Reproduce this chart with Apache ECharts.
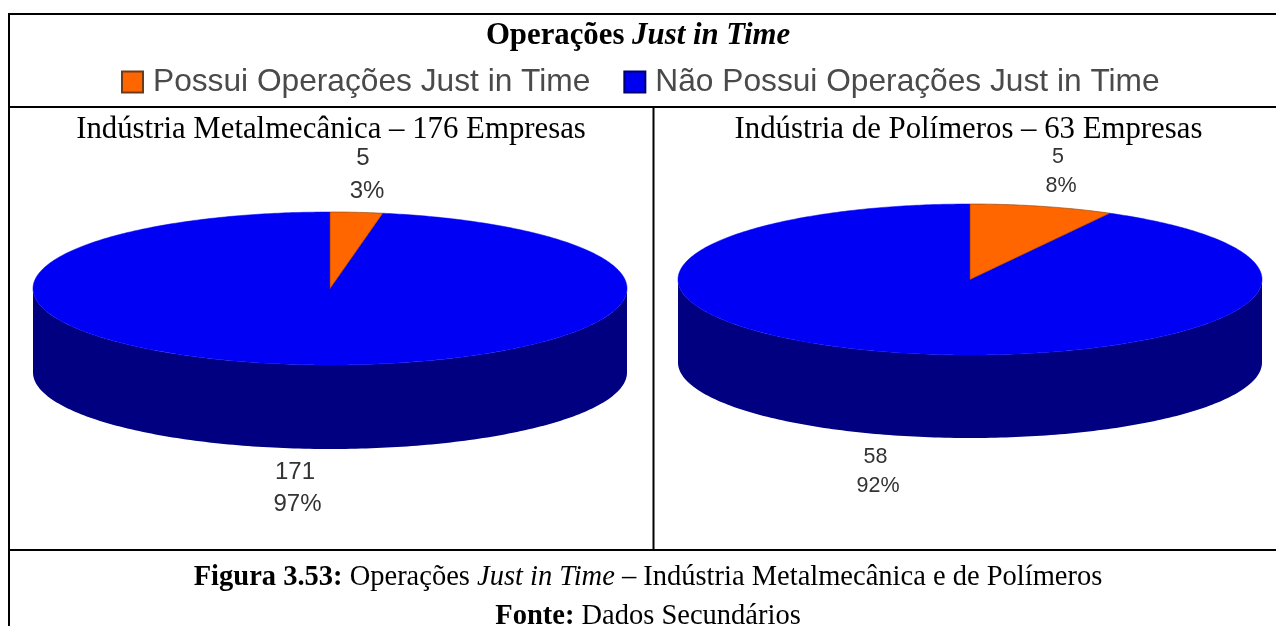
<!DOCTYPE html>
<html><head><meta charset="utf-8">
<style>html,body{margin:0;padding:0;background:#fff}#c{width:1276px;height:626px}</style>
<script src="https://cdn.jsdelivr.net/npm/echarts@6/dist/echarts.min.js"></script>
</head><body><div id="c"></div>
<script>
var legendNames = ['Possui Operações Just in Time', 'Não Possui Operações Just in Time'];
var panelTitles = ['Indústria Metalmecânica – 176 Empresas', 'Indústria de Polímeros – 63 Empresas'];
var possuiValues = [5, 5];
var naoPossuiValues = [171, 58];

var pieLayouts = [
  {cx: 330, cy: 288.5, rx: 297, ry: 76.5, depth: 84, font: 24,
   labelA: [[363, 158], [367, 191]], labelB: [[295, 472], [297.5, 504]]},
  {cx: 970, cy: 279.5, rx: 292, ry: 75.5, depth: 83, font: 21.5,
   labelA: [[1058, 157], [1061, 186]], labelB: [[875.5, 457], [878, 486]]}
];
var TOP_ORANGE = '#ff6600', TOP_BLUE = '#0000f5', SIDE_BLUE = '#000080';
var SERIF = '"Liberation Serif","Times New Roman",serif';
var SANS = '"Liberation Sans",Arial,sans-serif';

function ellipsePt(p, deg, dy) {
  var a = deg * Math.PI / 180;
  return [p.cx + p.rx * Math.sin(a), p.cy - p.ry * Math.cos(a) + (dy || 0)];
}
function slicePoints(p, from, to) {
  var pts = [[p.cx, p.cy]], n = Math.max(2, Math.ceil((to - from) * 1.5));
  for (var i = 0; i <= n; i++) pts.push(ellipsePt(p, from + (to - from) * i / n));
  return pts;
}
function wallPoints(p) {
  var pts = [], i;
  for (i = 0; i <= 180; i++) pts.push(ellipsePt(p, 90 + i));
  for (i = 180; i >= 0; i--) pts.push(ellipsePt(p, 90 + i, p.depth));
  return pts;
}
function textEl(pos, text, font) {
  return {
    type: 'text', z2: 10,
    style: {x: pos[0], y: pos[1], text: text, align: 'center', verticalAlign: 'middle',
            font: font + 'px ' + SANS, fill: '#333'}
  };
}
function labelEls(pos, value, total, font) {
  return [textEl(pos[0], String(value), font),
          textEl(pos[1], Math.round(value / total * 100) + '%', font)];
}
function renderPossui(params, api) {
  var i = params.dataIndex, p = pieLayouts[i], v = api.value(0);
  var total = possuiValues[i] + naoPossuiValues[i];
  return {type: 'group', children: [
    {type: 'polygon', shape: {points: slicePoints(p, 0, v / total * 360)},
     style: {fill: TOP_ORANGE, stroke: '#8a3a00', lineWidth: 0.6}}
  ].concat(labelEls(p.labelA, v, total, p.font))};
}
function renderNao(params, api) {
  var i = params.dataIndex, p = pieLayouts[i], v = api.value(0);
  var total = possuiValues[i] + naoPossuiValues[i];
  return {type: 'group', children: [
    {type: 'polygon', shape: {points: wallPoints(p)}, style: {fill: SIDE_BLUE}},
    {type: 'polygon', shape: {points: slicePoints(p, (1 - v / total) * 360, 360)},
     style: {fill: TOP_BLUE, stroke: TOP_BLUE, lineWidth: 0.5}}
  ].concat(labelEls(p.labelB, v, total, p.font))};
}
function rule(x1, y1, x2, y2) {
  return {type: 'line', shape: {x1: x1, y1: y1, x2: x2, y2: y2},
          style: {stroke: '#000', lineWidth: 2}, z: 20};
}
function para(y, text, rich) {
  return {type: 'text', x: 648, y: y, z: 20,
    style: {text: text, align: 'center', verticalAlign: 'middle', rich: rich}};
}
var capRich = {
  b: {font: 'bold 28.5px ' + SERIF, fill: '#000'},
  r: {font: '28.5px ' + SERIF, fill: '#000'},
  i: {font: 'italic 28.5px ' + SERIF, fill: '#000'}
};
var chart = echarts.init(document.getElementById('c'), null, {renderer: 'canvas'});
chart.setOption({
  animation: false,
  backgroundColor: '#fff',
  title: {
    text: '{b|Operações }{i|Just in Time}', left: 'center', top: 16,
    textStyle: {rich: {
      b: {fontFamily: SERIF, fontWeight: 'bold', fontSize: 30.8, color: '#000'},
      i: {fontFamily: SERIF, fontWeight: 'bold', fontStyle: 'italic', fontSize: 30.8, color: '#000'}
    }}
  },
  legend: {
    data: [
      {name: legendNames[0], itemStyle: {borderColor: '#6e3a1a', borderWidth: 2}},
      {name: legendNames[1], itemStyle: {borderColor: '#000070', borderWidth: 2}}
    ],
    left: 116, top: 61, icon: 'rect', itemWidth: 21, itemHeight: 21, itemGap: 33,
    textStyle: {fontFamily: SANS, fontSize: 31.7, color: '#4a4a4a', padding: [0, 0, 0, 5]},
    selectedMode: false
  },
  series: [
    {type: 'custom', name: legendNames[0], coordinateSystem: 'none', z: 3, silent: true,
     itemStyle: {color: TOP_ORANGE}, data: possuiValues, renderItem: renderPossui},
    {type: 'custom', name: legendNames[1], coordinateSystem: 'none', z: 2, silent: true,
     itemStyle: {color: '#0000f0'}, data: naoPossuiValues, renderItem: renderNao}
  ],
  graphic: [
    rule(8, 14, 1276, 14), rule(9, 14, 9, 626), rule(8, 107, 1276, 107),
    rule(8, 550, 1276, 550), rule(653.5, 107, 653.5, 550),
    {type: 'text', x: 331, y: 130, z: 20, style: {text: panelTitles[0], align: 'center', verticalAlign: 'middle', font: '30.8px ' + SERIF, fill: '#000'}},
    {type: 'text', x: 968.5, y: 130, z: 20, style: {text: panelTitles[1], align: 'center', verticalAlign: 'middle', font: '30.8px ' + SERIF, fill: '#000'}},
    para(578, '{b|Figura 3.53:}{r| Operações }{i|Just in Time}{r| – Indústria Metalmecânica e de Polímeros}', capRich),
    para(617, '{b|Fonte:}{r| Dados Secundários}', capRich)
  ]
});
</script></body></html>
